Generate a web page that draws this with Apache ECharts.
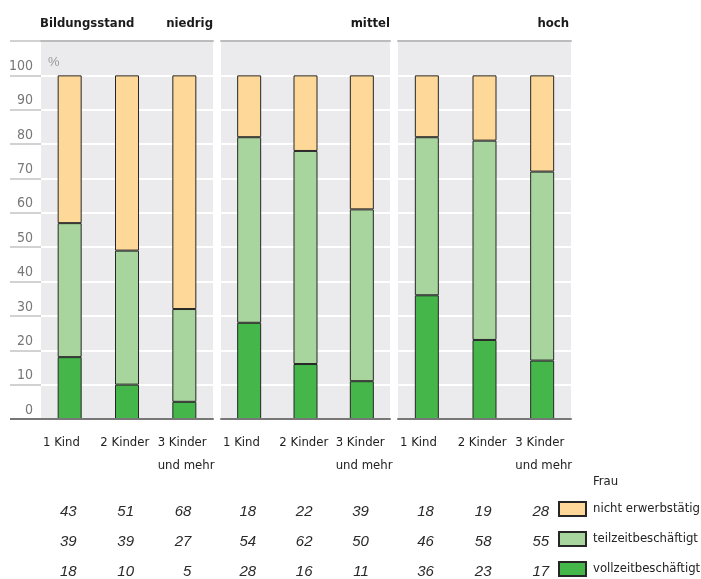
<!DOCTYPE html>
<html>
<head>
<meta charset="utf-8">
<script src="https://cdn.jsdelivr.net/npm/echarts@6/dist/echarts.min.js"></script>
<style>
  html, body { margin: 0; padding: 0; background: #fff; }
  #chart { width: 701px; height: 579px; }
</style>
</head>
<body>
<div id="chart"></div>
<script>
// Erwerbsbeteiligung von Frauen nach Kinderzahl und Bildungsstand (in %)
const categories = ['1 Kind', '2 Kinder', '3 Kinder\nund mehr'];
const groups = ['niedrig', 'mittel', 'hoch'];
const yTicks = { min: 0, max: 110, step: 10 };

// Werte je Bildungsstand, Reihenfolge wie categories
const vollzeit = [
  [18, 10, 5],
  [28, 16, 11],
  [36, 23, 17]
];
const teilzeit = [
  [39, 39, 27],
  [54, 62, 50],
  [46, 58, 55]
];
const nichtErwerbstaetig = [
  [43, 51, 68],
  [18, 22, 39],
  [18, 19, 28]
];

const seriesNames = ['vollzeitbeschäftigt', 'teilzeitbeschäftigt', 'nicht erwerbstätig'];
const seriesColors = ['#45b649', '#a8d59d', '#fed898'];
const seriesValues = [vollzeit, teilzeit, nichtErwerbstaetig];

const FONT = "'DejaVu Sans Condensed', 'Liberation Sans Narrow', sans-serif";
const NUMFONT = "'Liberation Sans', 'DejaVu Sans', sans-serif";

// Panel geometry
const panels = [
  { left: 41, width: 172 },
  { left: 221, width: 169 },
  { left: 398, width: 173 }
];
const gridTop = 41, gridHeight = 378;

const grids = [], xAxes = [], yAxes = [], series = [];
panels.forEach((p, g) => {
  grids.push({
    left: p.left, top: gridTop, width: p.width, height: gridHeight,
    show: true, backgroundColor: '#ebebed', borderWidth: 0
  });
  // main category axis (bars + baseline)
  xAxes.push({
    type: 'category', gridIndex: g, data: categories, position: 'bottom',
    axisLine: { lineStyle: { color: '#777', width: 2 } },
    axisTick: { show: false }, axisLabel: { show: false }, z: 5
  });
  // label axis: labels start at the left of each category band
  xAxes.push({
    type: 'category', gridIndex: g, data: categories.concat(['']), position: 'bottom',
    boundaryGap: false,
    axisLine: { show: false }, axisTick: { show: false }, splitLine: { show: false },
    axisLabel: {
      interval: 0, align: 'left', margin: 12, padding: [0, 0, 0, 2],
      fontFamily: FONT, fontSize: 13, color: '#222', lineHeight: 23
    }
  });
  // top rule
  xAxes.push({
    type: 'category', gridIndex: g, data: categories, position: 'top',
    axisLine: { lineStyle: { color: '#bcbcbc', width: 2 } },
    axisTick: { show: false }, axisLabel: { show: false }, z: 5
  });
  yAxes.push({
    type: 'value', gridIndex: g, min: yTicks.min, max: yTicks.max, interval: yTicks.step,
    axisLine: { show: false },
    axisTick: g === 0 ? { show: true, inside: false, length: 31, lineStyle: { color: '#c4c4c4', width: 1.5 } } : { show: false },
    axisLabel: g === 0 ? {
      show: true, margin: 8, fontFamily: FONT, fontSize: 14, color: '#777',
      verticalAlign: 'bottom', lineHeight: 16, padding: [0, 0, 1, 0],
      formatter: v => (v > 100 ? '' : String(v))
    } : { show: false },
    splitLine: { show: true, lineStyle: { color: '#ffffff', width: 2 } },
    name: g === 0 ? '%' : '',
    nameLocation: 'end', nameGap: -21,
    nameTextStyle: { align: 'left', verticalAlign: 'middle', padding: [0, 0, 0, 7], fontFamily: NUMFONT, fontSize: 13, color: '#9a9a9a' }
  });
  seriesNames.forEach((name, s) => {
    series.push({
      type: 'bar', name: name, stack: 'g' + g,
      xAxisIndex: g * 3, yAxisIndex: g,
      data: seriesValues[s][g],
      barWidth: 24,
      itemStyle: { color: seriesColors[s], borderColor: '#262626', borderWidth: 1 },
      emphasis: { disabled: true }
    });
  });
});

const chart = echarts.init(document.getElementById('chart'), null, { renderer: 'canvas' });

const titleStyle = { fontFamily: FONT, fontSize: 13, fontWeight: 'bold', color: '#1a1a1a' };
chart.setOption({
  animation: false,
  title: [
    { text: 'Bildungsstand', left: 40, top: 17, padding: 0, textStyle: titleStyle },
    { text: groups[0], right: 701 - 213, top: 17, padding: 0, textStyle: titleStyle },
    { text: groups[1], right: 701 - 390, top: 17, padding: 0, textStyle: titleStyle },
    { text: groups[2], right: 701 - 569, top: 17, padding: 0, textStyle: titleStyle },
    { text: 'Frau', left: 593, top: 475, padding: 0,
      textStyle: { fontFamily: FONT, fontSize: 13, fontWeight: 'normal', color: '#222' } }
  ],
  legend: {
    orient: 'vertical', left: 558, top: 501, width: 150, height: 120, padding: 0,
    data: ['nicht erwerbstätig', 'teilzeitbeschäftigt', 'vollzeitbeschäftigt'],
    itemWidth: 27, itemHeight: 14, itemGap: 14,
    icon: 'rect', selectedMode: false,
    textStyle: { fontFamily: FONT, fontSize: 13, lineHeight: 14, color: '#222', padding: [0, 0, 0, 2] }
  },
  grid: grids,
  xAxis: xAxes,
  yAxis: yAxes,
  series: series
});

// Value table under the panels and baseline extension across the y label column
const rowY = [512, 542, 572];
const rows = [nichtErwerbstaetig, teilzeit, vollzeit];
const graphics = [];
groups.forEach((grp, g) => {
  categories.forEach((cat, c) => {
    const cx = chart.convertToPixel({ xAxisIndex: g * 3 }, cat);
    rows.forEach((vals, r) => {
      graphics.push({
        type: 'text', z: 10,
        style: {
          text: String(vals[g][c]), x: cx + 7, y: rowY[r],
          align: 'right', verticalAlign: 'middle',
          font: 'italic 15px ' + NUMFONT, fill: '#2a2a2a'
        }
      });
    });
  });
});
const y0 = chart.convertToPixel({ yAxisIndex: 0 }, 0);
graphics.push({
  type: 'line', z: 10,
  shape: { x1: 10, y1: y0, x2: panels[0].left, y2: y0 },
  style: { stroke: '#777', lineWidth: 2 }
});
chart.setOption({ graphic: graphics });
</script>
</body>
</html>
